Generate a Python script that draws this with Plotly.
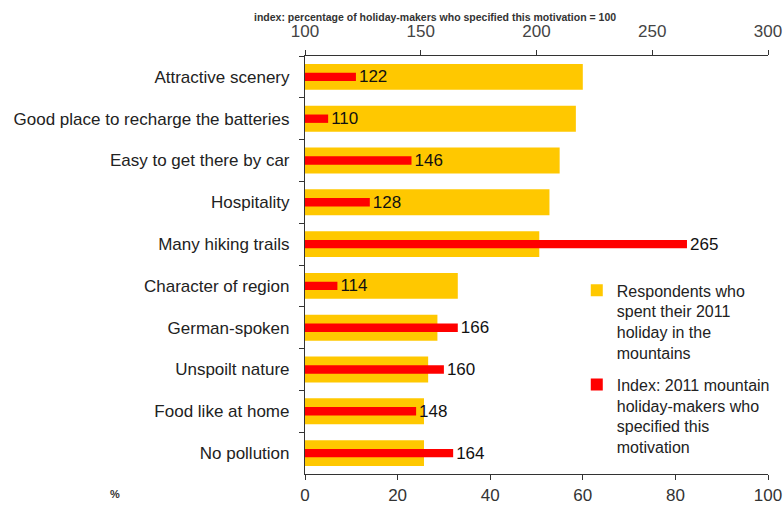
import plotly.graph_objects as go

categories = ["Attractive scenery", "Good place to recharge the batteries", "Easy to get there by car",
              "Hospitality", "Many hiking trails", "Character of region", "German-spoken",
              "Unspoilt nature", "Food like at home", "No pollution"]
respondents_pct = [60, 58.5, 55, 52.8, 50.6, 33, 28.6, 26.6, 25.7, 25.7]
index_values = [122, 110, 146, 128, 265, 114, 166, 160, 148, 164]
bottom_ticks = [0, 20, 40, 60, 80, 100]
top_ticks = [100, 150, 200, 250, 300]

FONT = "Arial, Liberation Sans, sans-serif"
YELLOW = "#FFC800"
RED = "#FF0000"

fig = go.Figure()
fig.add_trace(go.Bar(
    y=categories, x=respondents_pct, orientation="h", xaxis="x", yaxis="y",
    marker=dict(color=YELLOW, line=dict(width=0)), width=0.62,
    name="Respondents who<br>spent their 2011<br>holiday in the<br>mountains",
    legendgroup="a", hoverinfo="x+y",
))
fig.add_trace(go.Bar(
    y=categories, x=[v - 100 for v in index_values], base=100, orientation="h",
    xaxis="x2", yaxis="y",
    marker=dict(color=RED, line=dict(width=0)), width=0.2,
    text=[str(v) for v in index_values], textposition="outside",
    textfont=dict(size=17, color="#111", family=FONT),
    cliponaxis=False, constraintext="none",
    name="Index: 2011 mountain<br>holiday-makers who<br>specified this<br>motivation",
    legendgroup="b",
))

axis_common = dict(showline=True, linecolor="#333", linewidth=1.2, ticks="outside",
                   ticklen=5, tickcolor="#333", showgrid=False, zeroline=False,
                   automargin=False)

fig.update_layout(
    width=783, height=510,
    margin=dict(l=305, r=15, t=56, b=36, autoexpand=False),
    paper_bgcolor="white", plot_bgcolor="white",
    font=dict(family=FONT, size=17, color="#222"),
    barmode="overlay",
    xaxis=dict(range=[0, 100], tickvals=bottom_ticks, side="bottom",
               tickfont=dict(size=17, color="#333"), **axis_common),
    xaxis2=dict(range=[100, 300], tickvals=top_ticks, overlaying="x", side="top",
                tickfont=dict(size=17, color="#444"), anchor="y",
                ticklabelstandoff=6, **axis_common),
    yaxis=dict(categoryorder="array", categoryarray=categories, autorange="reversed",
               tickson="boundaries", tickfont=dict(size=17, color="#222"),
               ticklabelstandoff=11, **axis_common),
    legend=dict(x=0.587, y=0.48, xanchor="left", yanchor="top", valign="top",
                traceorder="grouped", tracegroupgap=8,
                font=dict(size=16, color="#222", family=FONT),
                bgcolor="rgba(0,0,0,0)"),
    annotations=[
        dict(text="<b>index: percentage of holiday-makers who specified this motivation = 100</b>",
             xref="paper", yref="paper", x=0.28, y=1, yshift=31, xanchor="center", yanchor="bottom",
             showarrow=False, font=dict(size=10.5, color="#333", family=FONT)),
        dict(text="<b>%</b>", xref="paper", yref="paper", x=-0.41, y=0, yshift=-20,
             xanchor="center", yanchor="middle", showarrow=False,
             font=dict(size=11, color="#333", family=FONT)),
    ],
)

fig.write_html("out.html", config={"displayModeBar": False},
               post_script="document.body.style.margin='0';document.body.style.padding='0';")
